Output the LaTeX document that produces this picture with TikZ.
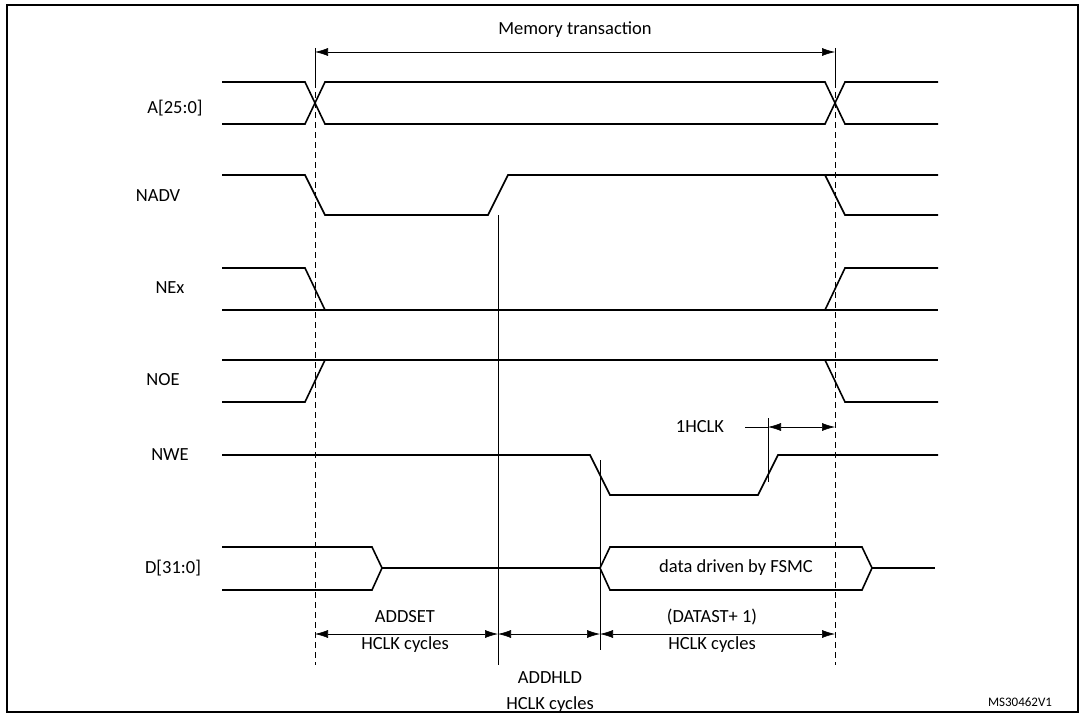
\documentclass[tikz,border=0pt]{standalone}
\usepackage{fontspec}
\setmainfont{Carlito}
\usetikzlibrary{positioning,arrows.meta}
\tikzset{>={Latex[length=13pt,width=8pt]}}
\tikzset{sig/.style={line width=1.6pt, line join=miter},
  dim/.style={<->, line width=0.6pt},
  lbl/.style={font=\fontsize{18.5}{22}\selectfont}}

\begin{document}
\begin{tikzpicture}[x=1pt,y=-1pt]
\useasboundingbox (0,0) rectangle (1085,717);
\draw[line width=1.2pt] (7,5) rectangle (1078,712);

% signal names
\node[lbl] (nA) at (175,108) {A[25:0]};
\node[lbl] (nADV) at (158,196) {NADV};
\node[lbl] (nE) at (170,288) {NEx};
\node[lbl] (nOE) at (163,380) {NOE};
\node[lbl] (nWE) at (170,455) {NWE};
\node[lbl] (nD) at (173,568) {D[31:0]};

% A[25:0]
\draw[sig] (222,82)--(305,82)--(325,124)--(825,124)--(845,82)--(938,82);
\draw[sig] (222,124)--(305,124)--(325,82)--(825,82)--(845,124)--(938,124);
% NADV
\draw[sig] (222,175)--(305,175)--(325,215)--(488,215)--(508,175)--(938,175);
\draw[sig] (825,175)--(845,215)--(938,215);
% NEx
\draw[sig] (222,268)--(305,268)--(325,310);
\draw[sig] (222,310)--(938,310);
\draw[sig] (825,310)--(845,268)--(938,268);
% NOE
\draw[sig] (222,402)--(305,402)--(325,360);
\draw[sig] (222,360)--(938,360);
\draw[sig] (825,360)--(845,402)--(938,402);
% NWE
\draw[sig] (222,455)--(590,455)--(610,495)--(758,495)--(778,455)--(938,455);
% D[31:0]
\draw[sig] (222,547)--(372,547)--(382,568)--(372,590)--(222,590);
\draw[sig] (382,568)--(600,568);
\draw[sig] (600,568)--(610,547)--(862,547)--(872,568)--(862,590)--(610,590)--cycle;
\draw[sig] (872,568)--(935,568);
\node[lbl] (data) at (736,568) {data driven by FSMC};

% timing marks
\coordinate (t0) at (315,48);
\coordinate (t1) at (835,48);
\draw[thin] (t0)--(315,82);
\draw[thin] (t1)--(835,82);
\draw[thin, dash pattern=on 6pt off 4pt] (315,82)--(315,665);
\draw[thin, dash pattern=on 6pt off 4pt] (835,82)--(835,665);
\draw[thin] (498,215)--(498,665);
\draw[thin] (600,460)--(600,650);
\draw[thin] (768,418)--(768,482);
\draw[thin] (745,427)--(768,427);

\coordinate (m0) at (315,52);
\coordinate (m1) at (835,52);
\draw[dim] (m0)--(m1);
\node[lbl] (mem) at (575,30) {Memory transaction};

\coordinate (h0) at (768,427);
\coordinate (h1) at (835,427);
\draw[dim] (h0)--(h1);
\node[lbl] (hclk) at (700,427) {1HCLK};

\coordinate (a0) at (315,634);
\coordinate (a1) at (498,634);
\coordinate (a2) at (600,634);
\coordinate (a3) at (835,634);
\draw[dim] (a0)--(a1);
\draw[dim] (a1)--(a2);
\draw[dim] (a2)--(a3);
\node[lbl] (addset) at (405,617) {ADDSET};
\node[lbl] (addsetc) at (405,645) {HCLK cycles};
\node[lbl] (addhld) at (550,678) {ADDHLD};
\node[lbl] (addhldc) at (550,705) {HCLK cycles};
\node[lbl] (datast) at (712,617) {(DATAST+ 1)};
\node[lbl] (datastc) at (712,645) {HCLK cycles};

\node[font=\fontsize{13}{15}\selectfont] (ref) at (1020,702) {MS30462V1};
\end{tikzpicture}
\end{document}
